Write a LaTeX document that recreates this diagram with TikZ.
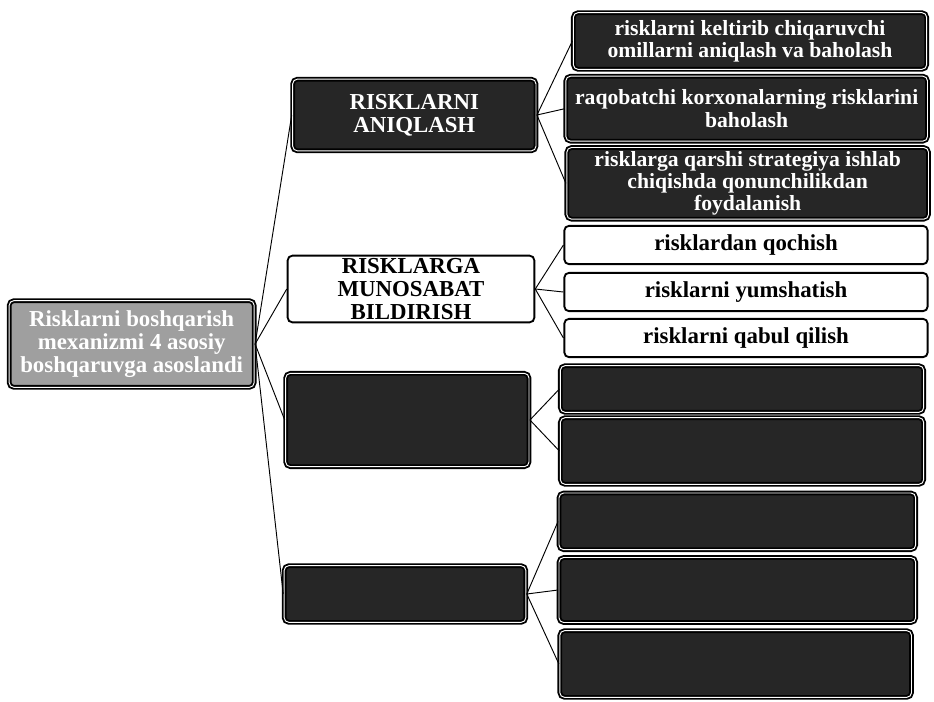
\documentclass[tikz,border=0pt]{standalone}
\usepackage{fontspec}
\setmainfont{Liberation Serif}
\usepackage{tikz}

\begin{document}
\begin{tikzpicture}[every node/.style={font=\fontsize{19.5}{19.5}\selectfont\bfseries, align=center},
	box/.style={draw=black, line width=1.6pt, rounded corners=4pt, inner sep=1pt},
	darkbox/.style={box, fill=black!85, text=white, double=white!80, double distance=0.8pt},
	lightbox/.style={box, fill=white, text=black},
	rootbox/.style={box, fill=gray!75, text=white, double=white!80, double distance=0.8pt},
	smalltext/.style={font=\fontsize{18.5}{19}\selectfont\bfseries}]
	\useasboundingbox (0,0) rectangle (28.02,-21.03);
	% main box
	\node[rootbox, minimum width=7.35cm, minimum height=2.6cm] (root) at (3.95,-10.32)
		{Risklarni boshqarish\\ mexanizmi 4 asosiy\\ boshqaruvga asoslandi};
	% first level
	\node[darkbox, minimum width=7.3cm, minimum height=2.15cm] (aniq) at (12.43,-3.45)
		{RISKLARNI\\ ANIQLASH};
	\node[lightbox, minimum width=7.4cm, minimum height=2.0cm] (muno) at (12.33,-8.67)
		{RISKLARGA\\ MUNOSABAT\\ BILDIRISH};
	\node[darkbox, minimum width=7.3cm, minimum height=2.8cm] (third) at (12.22,-12.6) {};
	\node[darkbox, minimum width=7.25cm, minimum height=1.7cm] (fourth) at (12.15,-17.82) {};
	% second level
	\node[darkbox, smalltext, minimum width=10.6cm, minimum height=1.7cm] (a1) at (22.5,-1.23)
		{risklarni keltirib chiqaruvchi\\ omillarni aniqlash va baholash};
	\node[darkbox, smalltext, minimum width=10.85cm, minimum height=1.95cm] (a2) at (22.4,-3.26)
		{raqobatchi korxonalarning risklarini\\ baholash};
	\node[darkbox, smalltext, minimum width=10.85cm, minimum height=2.15cm] (a3) at (22.43,-5.5)
		{risklarga qarshi strategiya ishlab\\ chiqishda qonunchilikdan\\ foydalanish};
	\node[lightbox, minimum width=10.9cm, minimum height=1.15cm] (b1) at (22.38,-7.35) {risklardan qochish};
	\node[lightbox, minimum width=10.9cm, minimum height=1.15cm] (b2) at (22.38,-8.76) {risklarni yumshatish};
	\node[lightbox, minimum width=10.9cm, minimum height=1.15cm] (b3) at (22.38,-10.14) {risklarni qabul qilish};
	\node[darkbox, minimum width=10.9cm, minimum height=1.4cm] (c1) at (22.26,-11.67) {};
	\node[darkbox, minimum width=10.9cm, minimum height=2.0cm] (c2) at (22.26,-13.53) {};
	\node[darkbox, minimum width=10.7cm, minimum height=1.7cm] (d1) at (22.12,-15.64) {};
	\node[darkbox, minimum width=10.7cm, minimum height=1.95cm] (d2) at (22.12,-17.7) {};
	\node[darkbox, minimum width=10.55cm, minimum height=2.0cm] (d3) at (22.07,-19.92) {};
	% connectors
	\foreach \n in {aniq,muno,third,fourth}
		\draw[thick] (root.east) -- (\n.west);
	\foreach \n in {a1,a2,a3}
		\draw[thick] (aniq.east) -- (\n.west);
	\foreach \n in {b1,b2,b3}
		\draw[thick] (muno.east) -- (\n.west);
	\foreach \n in {c1,c2}
		\draw[thick] (third.east) -- (\n.west);
	\foreach \n in {d1,d2,d3}
		\draw[thick] (fourth.east) -- (\n.west);
\end{tikzpicture}
\end{document}
